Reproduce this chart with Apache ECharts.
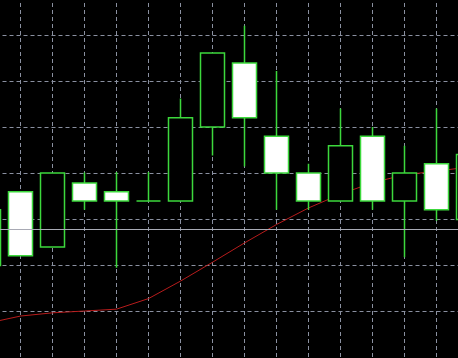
<!DOCTYPE html>
<html>
<head>
<meta charset="utf-8">
<script src="https://cdn.jsdelivr.net/npm/echarts@6/dist/echarts.min.js"></script>
<style>
html,body{margin:0;padding:0;background:#000;overflow:hidden;width:458px;height:358px;position:relative;}
#chart{position:absolute;left:-12px;top:-11px;width:481px;height:368px;}
</style>
</head>
<body>
<div id="chart"></div>
<script>
// bar index labels (no visible axis labels in the reference)
const categories = ['1','2','3','4','5','6','7','8','9','10','11','12','13','14','15','16'];
// candle values
const opens  = [119.9, 135.9, 123.9, 137.8, 135.9, 133.9, 133.9, 150.0, 163.9, 148.0, 140.0, 133.9, 148.0, 133.9, 142.0, 129.9];
const closes = [132.0, 122.0, 140.0, 133.9, 133.9, 133.9, 152.0, 166.1, 152.0, 140.0, 133.9, 145.9, 133.9, 140.0, 132.0, 144.0];
const lows   = [119.9, 122.0, 123.9, 132.0, 119.4, 133.9, 133.9, 143.8, 141.4, 132.0, 132.0, 133.9, 132.0, 121.7, 129.6, 129.9];
const highs  = [132.0, 135.9, 140.0, 140.1, 140.2, 140.2, 156.2, 166.1, 172.0, 162.2, 142.0, 154.0, 150.0, 145.9, 154.0, 144.0];
const movingAverage = [107.4, 108.9, 109.6, 110.0, 110.4, 112.7, 116.5, 120.6, 124.8, 128.8, 132.4, 135.4, 137.9, 139.6, 140.4, 141.3];
const priceLine = 127.8;
const yMin = 100, yMax = 180, yStep = 10;

const green = '#3cd83c';
const candleData = opens.map((o, i) => {
  const bull = closes[i] >= o;
  return {
    value: [o, closes[i], lows[i], highs[i]],
    itemStyle: {
      color: bull ? '#000000' : '#ffffff',
      color0: bull ? '#000000' : '#ffffff',
      borderColor: green,
      borderColor0: green
    }
  };
});

const chart = echarts.init(document.getElementById('chart'));
chart.setOption({
  backgroundColor: '#000000',
  animation: false,
  grid: { left: 0.5, right: 0.5, top: 0, bottom: 0, containLabel: false },
  xAxis: {
    type: 'category',
    data: categories,
    boundaryGap: false,
    axisLine: { show: false },
    axisTick: { show: false },
    axisLabel: { show: false },
    splitLine: { show: true, interval: 0, lineStyle: { color: '#8a90a0', type: [4, 3], width: 1 } }
  },
  yAxis: {
    type: 'value',
    min: yMin, max: yMax, interval: yStep,
    axisLine: { show: false },
    axisTick: { show: false },
    axisLabel: { show: false },
    splitLine: { show: true, lineStyle: { color: '#8a90a0', type: [4, 3], width: 1 } }
  },
  series: [
    {
      type: 'line',
      data: movingAverage,
      symbol: 'none',
      z: 1,
      lineStyle: { color: '#b81c1c', width: 1 },
      markLine: {
        silent: true,
        symbol: 'none',
        label: { show: false },
        lineStyle: { color: '#a8aab4', type: 'solid', width: 1 },
        data: [{ yAxis: priceLine }]
      }
    },
    {
      type: 'candlestick',
      data: candleData,
      barWidth: 24,
      z: 3,
      itemStyle: { borderWidth: 1.5, color: '#000', color0: '#fff', borderColor: green, borderColor0: green }
    }
  ]
});
</script>
</body>
</html>
